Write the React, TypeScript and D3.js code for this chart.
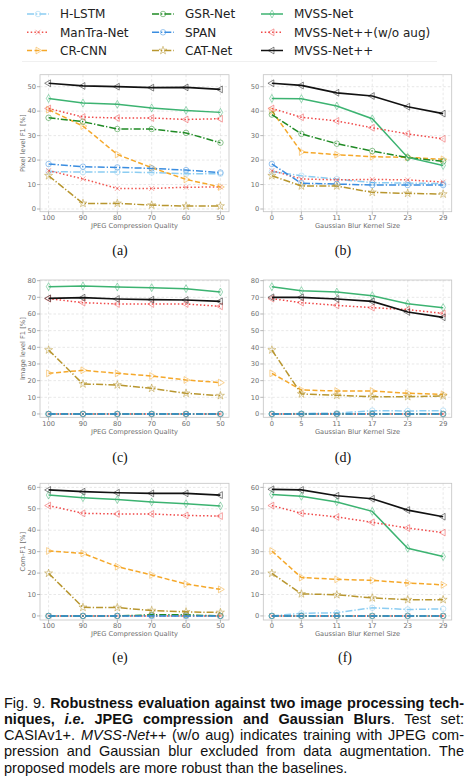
import * as d3 from 'd3';
import { useLayoutEffect, useRef } from 'react';

const W = 469;
const H = 781;

// x values of the two kinds of panels
const JPEG_QUALITY = [100, 90, 80, 70, 60, 50];
const BLUR_KERNEL = [0, 5, 11, 17, 23, 29];

const METHODS = [
    'H-LSTM',
    'ManTra-Net',
    'CR-CNN',
    'GSR-Net',
    'SPAN',
    'CAT-Net',
    'MVSS-Net',
    'MVSS-Net++(w/o aug)',
    'MVSS-Net++',
];

// one row per method, same order as METHODS
const PIXEL_JPEG = [
    [15.3, 15.1, 15.1, 14.9, 14.4, 14.4],
    [15.7, 12.3, 8.4, 8.4, 8.9, 9.0],
    [40.6, 33.9, 22.3, 16.9, 12.1, 9.0],
    [37.3, 35.7, 32.7, 32.7, 31.1, 27.1],
    [18.4, 17.3, 17.0, 16.6, 15.9, 14.9],
    [13.6, 2.3, 2.3, 1.6, 1.2, 1.2],
    [45.2, 43.3, 42.8, 41.3, 40.3, 39.5],
    [41.1, 37.6, 37.2, 37.2, 36.6, 36.9],
    [51.4, 50.3, 50.0, 49.6, 49.7, 48.9],
];

const PIXEL_BLUR = [
    [15.3, 13.6, 12.2, 10.8, 10.6, 10.4],
    [15.7, 12.3, 11.9, 12.1, 11.9, 11.0],
    [40.1, 23.3, 22.2, 21.4, 21.1, 20.3],
    [38.6, 30.7, 26.7, 23.7, 21.0, 19.5],
    [18.4, 10.5, 10.2, 9.8, 9.8, 9.8],
    [13.6, 9.4, 9.4, 6.8, 6.4, 6.1],
    [45.2, 45.1, 42.1, 36.9, 21.1, 17.8],
    [41.1, 37.5, 36.0, 33.2, 30.7, 28.7],
    [51.4, 50.5, 47.5, 46.2, 41.8, 39.0],
];

const IMAGE_JPEG = [
    [0, 0, 0, 0, 0, 0],
    [0, 0, 0, 0, 0, 0],
    [24.4, 26.2, 24.4, 22.8, 20.4, 18.8],
    [0, 0, 0, 0, 0, 0],
    [0, 0, 0, 0, 0, 0],
    [38.4, 18.0, 17.4, 15.4, 12.4, 11.0],
    [76.4, 76.8, 76.2, 75.8, 75.2, 73.2],
    [69.2, 66.8, 66.0, 66.0, 66.0, 64.6],
    [69.4, 69.8, 69.0, 68.6, 68.4, 67.6],
];

const IMAGE_BLUR = [
    [0, 0.3, 0.5, 2.0, 1.8, 2.0],
    [0, 0, 0, 0, 0, 0],
    [24.4, 14.4, 13.8, 13.8, 12.4, 11.8],
    [0, 0, 0, 0, 0, 0],
    [0, 0, 0, 0, 0, 0],
    [38.4, 12.0, 11.2, 10.4, 10.4, 10.8],
    [76.4, 74.0, 73.2, 71.0, 66.2, 63.8],
    [69.2, 66.8, 65.2, 63.8, 62.6, 60.4],
    [70.0, 70.0, 69.0, 67.6, 61.2, 58.0],
];

const COM_JPEG = [
    [0, 0, 0, 0, 0, 0],
    [0, 0, 0, 0, 0, 0],
    [30.3, 29.2, 23.0, 19.1, 14.9, 12.4],
    [0, 0, 0, 0.5, 0.5, 0],
    [0, 0, 0, 0, 0, 0],
    [19.9, 4.0, 3.9, 2.5, 1.9, 1.6],
    [56.4, 55.2, 54.3, 53.2, 52.4, 51.3],
    [51.5, 47.9, 47.6, 47.6, 46.9, 46.6],
    [58.8, 58.0, 57.5, 57.2, 57.2, 56.4],
];

const COM_BLUR = [
    [0, 1.2, 1.5, 3.8, 3.0, 3.3],
    [0, 0, 0, 0, 0, 0],
    [30.3, 17.9, 17.1, 16.6, 15.4, 14.5],
    [0, 0, 0, 0, 0, 0],
    [0, 0, 0, 0, 0, 0],
    [19.9, 10.3, 9.9, 8.4, 7.6, 7.6],
    [56.7, 55.8, 53.2, 48.8, 31.6, 27.7],
    [51.5, 47.9, 46.2, 43.7, 41.0, 38.9],
    [59.1, 58.8, 56.1, 54.7, 49.4, 46.3],
];

const PIXEL_TICKS = [0, 10, 20, 30, 40, 50];
const IMAGE_TICKS = [0, 10, 20, 30, 40, 50, 60, 70, 80];
const COM_TICKS = [0, 10, 20, 30, 40, 50, 60];

// matplotlib-ish dash patterns
const DASHDOT = '7,2,1.3,2';
const DASHED = '5,2.5';
const DOTTED = '1.5,2.2';

const STYLES = [
    { color: '#8ccdf2', dash: DASHDOT, marker: 'o' },
    { color: '#f0554f', dash: DOTTED, marker: 'x' },
    { color: '#f5a82a', dash: DASHED, marker: '>' },
    { color: '#1f8a24', dash: DASHDOT, marker: 'o' },
    { color: '#3a8de0', dash: DASHDOT, marker: 'o' },
    { color: '#b8962f', dash: DASHDOT, marker: '*' },
    { color: '#3cb371', dash: '', marker: 'd' },
    { color: '#f04848', dash: DOTTED, marker: '<' },
    { color: '#111111', dash: '', marker: '<' },
];

const AXIS_FONT = 'DejaVu Sans';
const AXIS_GRAY = '#6e6e6e';

const markerPath = (m: string) => {
    if (m === 'o') return { d: d3.symbol(d3.symbolCircle, 24)()!, rot: 0 };
    if (m === 'x') return { d: d3.symbol(d3.symbolX, 18)()!, rot: 0 };
    if (m === '*') return { d: d3.symbol(d3.symbolStar, 20)()!, rot: 0 };
    if (m === 'd') return { d: d3.symbol(d3.symbolDiamond, 18)()!, rot: 0 };
    if (m === '>') return { d: d3.symbol(d3.symbolTriangle, 20)()!, rot: 90 };
    return { d: d3.symbol(d3.symbolTriangle, 20)()!, rot: -90 };
};

const Marker = ({ x, y, style }: { x: number; y: number; style: (typeof STYLES)[number] }) => {
    const { d, rot } = markerPath(style.marker);
    return (
        <path
            d={d}
            transform={`translate(${x},${y}) rotate(${rot})`}
            fill="none"
            stroke={style.color}
            strokeWidth={1}
            opacity={0.5}
        />
    );
};

type PanelProps = {
    left: number;
    top: number;
    width: number;
    height: number;
    xs: number[];
    xDomain: [number, number];
    yDomain: [number, number];
    yTicks: number[];
    values: number[][];
    xLabel: string;
    yLabel?: string;
    caption: string;
    captionX: number;
    captionY: number;
};

const Panel = ({ left, top, width, height, xs, xDomain, yDomain, yTicks, values, xLabel, yLabel, caption, captionX, captionY }: PanelProps) => {
    const xScale = d3.scaleLinear().domain(xDomain).range([left, left + width]);
    const yScale = d3.scaleLinear().domain(yDomain).range([top + height, top]);
    const bottom = top + height;

    const line = d3
        .line<number>()
        .x((_, i) => xScale(xs[i]))
        .y((d) => yScale(d));

    return (
        <g>
            {/* grid */}
            {yTicks.map((t) => (
                <line key={'gy' + t} x1={left} x2={left + width} y1={yScale(t)} y2={yScale(t)}
                    stroke="#d9d9d9" strokeWidth={0.6} strokeDasharray="2.5,2" />
            ))}
            {xs.map((t) => (
                <line key={'gx' + t} x1={xScale(t)} x2={xScale(t)} y1={top} y2={bottom}
                    stroke="#d9d9d9" strokeWidth={0.6} strokeDasharray="2.5,2" />
            ))}

            {/* series */}
            {values.map((row, i) => (
                <g key={METHODS[i]}>
                    <path
                        d={line(row) ?? ''}
                        fill="none"
                        stroke={STYLES[i].color}
                        strokeWidth={i === 8 ? 1.7 : 1.5}
                        strokeDasharray={STYLES[i].dash || undefined}
                    />
                    {row.map((v, j) => (
                        <Marker key={j} x={xScale(xs[j])} y={yScale(v)} style={STYLES[i]} />
                    ))}
                </g>
            ))}

            {/* frame */}
            <rect x={left} y={top} width={width} height={height} fill="none" stroke="#c4c4c4" strokeWidth={0.8} />

            {/* y axis */}
            {yTicks.map((t) => (
                <g key={'ty' + t}>
                    <line x1={left - 3} x2={left} y1={yScale(t)} y2={yScale(t)} stroke="#888" strokeWidth={0.6} />
                    <text x={left - 4} y={yScale(t)} dy="0.33em" textAnchor="end"
                        fontFamily={AXIS_FONT} fontSize={6.7} fill={AXIS_GRAY}>
                        {t}
                    </text>
                </g>
            ))}

            {/* x axis */}
            {xs.map((t) => (
                <g key={'tx' + t}>
                    <line x1={xScale(t)} x2={xScale(t)} y1={bottom} y2={bottom + 3} stroke="#888" strokeWidth={0.6} />
                    <text x={xScale(t)} y={bottom + 8.3} textAnchor="middle"
                        fontFamily={AXIS_FONT} fontSize={6.7} fill={AXIS_GRAY}>
                        {t}
                    </text>
                </g>
            ))}
            <text x={left + width / 2} y={bottom + 16.2} textAnchor="middle"
                fontFamily={AXIS_FONT} fontSize={6.7} fill={AXIS_GRAY}>
                {xLabel}
            </text>
            {yLabel && (
                <text transform={`translate(${left - 15},${top + height / 2}) rotate(-90)`} textAnchor="middle"
                    fontFamily={AXIS_FONT} fontSize={6.7} fill={AXIS_GRAY}>
                    {yLabel}
                </text>
            )}

            <text x={captionX} y={captionY} textAnchor="middle" fontFamily="Liberation Serif" fontSize={14} fill="#111">
                {caption}
            </text>
        </g>
    );
};

const Legend = () => {
    const colX = [27, 152, 261];
    const rowY = [14, 32.3, 50.5];
    return (
        <g>
            {METHODS.map((name, i) => {
                const x = colX[Math.floor(i / 3)];
                const y = rowY[i % 3];
                const s = STYLES[i];
                return (
                    <g key={name}>
                        <line x1={x} x2={x + 22} y1={y} y2={y} stroke={s.color} strokeWidth={1.5}
                            strokeDasharray={s.dash || undefined} />
                        <Marker x={x + 11} y={y} style={s} />
                        <text x={x + 33} y={y} dy="0.36em" fontFamily={AXIS_FONT} fontSize={12} fill="#222">
                            {name}
                        </text>
                    </g>
                );
            })}
            <line x1={22} x2={437} y1={61.5} y2={61.5} stroke="#ececec" strokeWidth={0.8} />
        </g>
    );
};

const CAPTION_FONT = 'Liberation Sans';
const CAPTION_WIDTH = 460;

const Caption = () => {
    const refs = useRef<(SVGTextElement | null)[]>([]);

    // justify the first four lines by widening the word spacing
    useLayoutEffect(() => {
        refs.current.forEach((el) => {
            if (!el) return;
            el.style.wordSpacing = '0px';
            const len = el.getComputedTextLength();
            const spaces = (el.textContent ?? '').split(' ').length - 1;
            if (spaces > 0) el.style.wordSpacing = `${(CAPTION_WIDTH - len) / spaces}px`;
        });
    }, []);

    const y0 = 707.5;
    const dy = 16.3;
    const common = { x: 4, fontFamily: CAPTION_FONT, fontSize: 14.5, fill: '#111' };
    return (
        <g>
            <text {...common} y={y0} ref={(el) => { refs.current[0] = el; }}>
                <tspan>Fig. 9. </tspan>
                <tspan fontWeight="bold">Robustness evaluation against two image processing tech-</tspan>
            </text>
            <text {...common} y={y0 + dy} ref={(el) => { refs.current[1] = el; }}>
                <tspan fontWeight="bold">niques, </tspan>
                <tspan fontWeight="bold" fontStyle="italic">i.e.</tspan>
                <tspan fontWeight="bold"> JPEG compression and Gaussian Blurs</tspan>
                <tspan>. Test set:</tspan>
            </text>
            <text {...common} y={y0 + 2 * dy} ref={(el) => { refs.current[2] = el; }}>
                <tspan>CASIAv1+. </tspan>
                <tspan fontStyle="italic">MVSS-Net++</tspan>
                <tspan> (w/o aug) indicates training with JPEG com-</tspan>
            </text>
            <text {...common} y={y0 + 3 * dy} ref={(el) => { refs.current[3] = el; }}>
                pression and Gaussian blur excluded from data augmentation. The
            </text>
            <text {...common} y={y0 + 4 * dy}>
                proposed models are more robust than the baselines.
            </text>
        </g>
    );
};

const LEFT = { left: 40, width: 189 };
const RIGHT = { left: 263.3, width: 188.4 };
const JPEG_DOMAIN: [number, number] = [102.5, 47.5];
const BLUR_DOMAIN: [number, number] = [-1.45, 30.45];

export default function App() {
    return (
        <div style={{ position: 'absolute', left: 0, top: 0 }}>
            <svg width={W} height={H} style={{ display: 'block', background: '#fff' }}>
                <Legend />

                <Panel {...LEFT} top={74.7} height={137} xs={JPEG_QUALITY} xDomain={JPEG_DOMAIN}
                    yDomain={[-1.1, 54.9]} yTicks={PIXEL_TICKS} values={PIXEL_JPEG}
                    xLabel="JPEG Compression Quality" yLabel="Pixel level F1 [%]"
                    caption="(a)" captionX={120} captionY={254.5} />
                <Panel {...RIGHT} top={74.7} height={137} xs={BLUR_KERNEL} xDomain={BLUR_DOMAIN}
                    yDomain={[-1.1, 54.9]} yTicks={PIXEL_TICKS} values={PIXEL_BLUR}
                    xLabel="Gaussian Blur Kernel Size"
                    caption="(b)" captionX={343} captionY={254.5} />

                <Panel {...LEFT} top={280} height={137.3} xs={JPEG_QUALITY} xDomain={JPEG_DOMAIN}
                    yDomain={[-2, 80.4]} yTicks={IMAGE_TICKS} values={IMAGE_JPEG}
                    xLabel="JPEG Compression Quality" yLabel="Image level F1 [%]"
                    caption="(c)" captionX={120} captionY={461.5} />
                <Panel {...RIGHT} top={280} height={137.3} xs={BLUR_KERNEL} xDomain={BLUR_DOMAIN}
                    yDomain={[-2, 80.4]} yTicks={IMAGE_TICKS} values={IMAGE_BLUR}
                    xLabel="Gaussian Blur Kernel Size"
                    caption="(d)" captionX={343} captionY={461.5} />

                <Panel {...LEFT} top={483.3} height={136.7} xs={JPEG_QUALITY} xDomain={JPEG_DOMAIN}
                    yDomain={[-1.9, 61.9]} yTicks={COM_TICKS} values={COM_JPEG}
                    xLabel="JPEG Compression Quality" yLabel="Com-F1 [%]"
                    caption="(e)" captionX={120} captionY={662} />
                <Panel {...RIGHT} top={483.3} height={136.7} xs={BLUR_KERNEL} xDomain={BLUR_DOMAIN}
                    yDomain={[-1.9, 61.9]} yTicks={COM_TICKS} values={COM_BLUR}
                    xLabel="Gaussian Blur Kernel Size"
                    caption="(f)" captionX={345} captionY={662} />

                <Caption />
            </svg>
        </div>
    );
}
